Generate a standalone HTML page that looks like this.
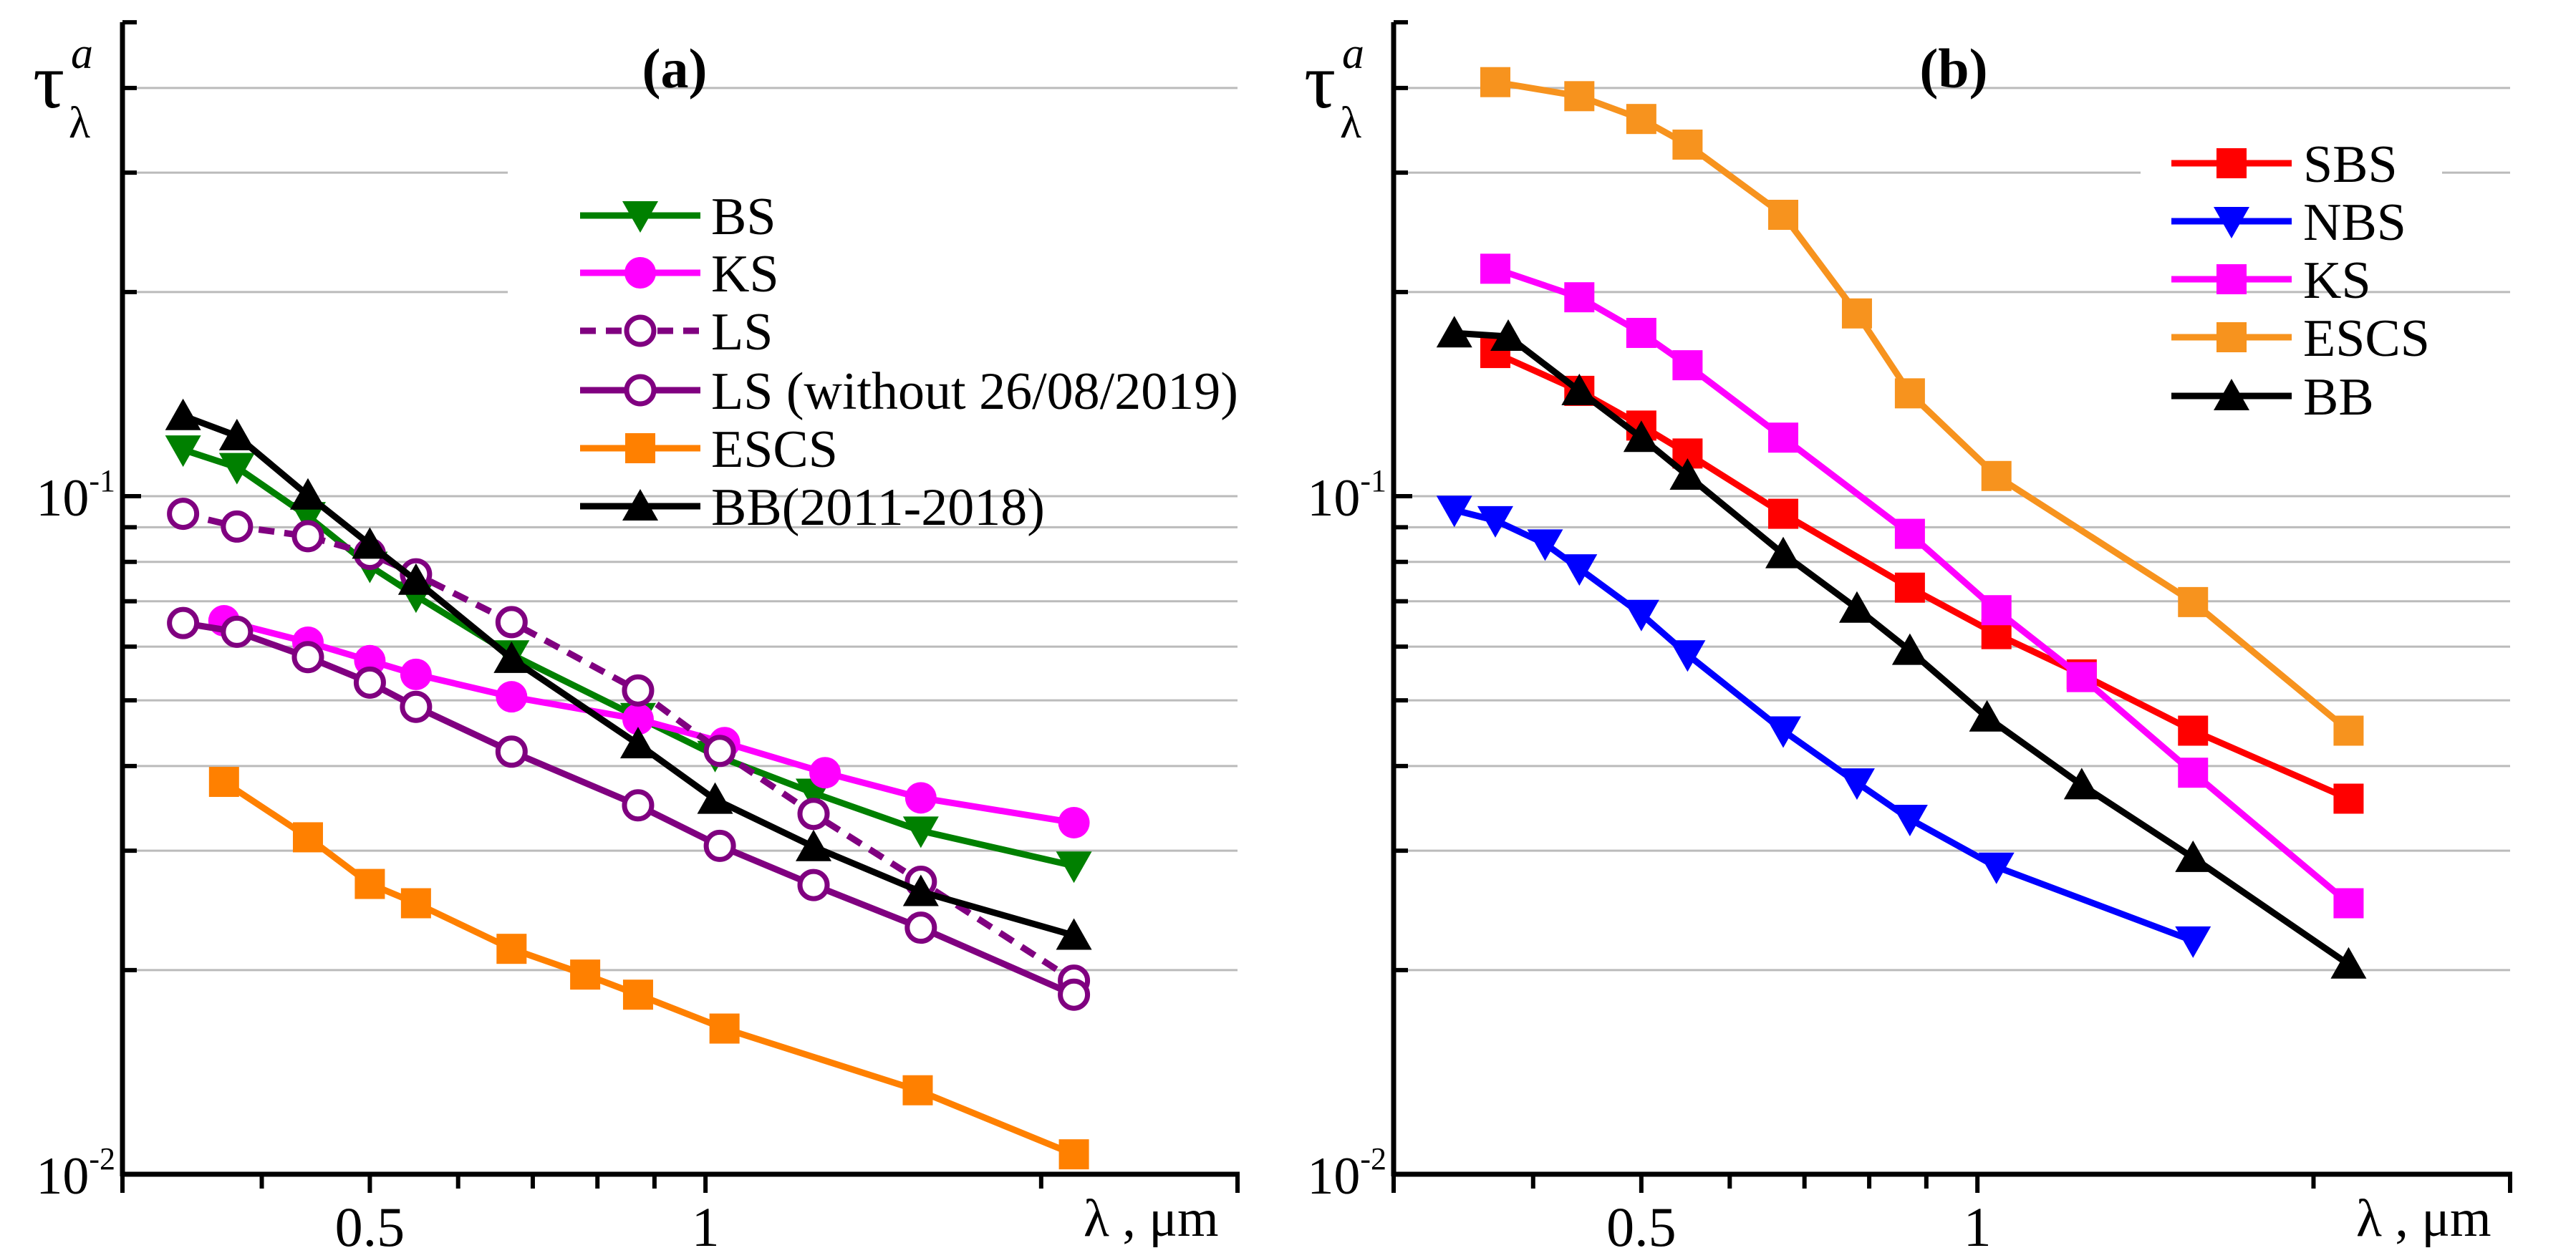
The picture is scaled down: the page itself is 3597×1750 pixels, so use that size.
<!DOCTYPE html>
<html><head><meta charset="utf-8"><style>
html,body{margin:0;padding:0;background:#fff;}
svg{display:block;}
svg text{font-family:"Liberation Serif","Times New Roman",Times,"DejaVu Serif",serif !important;}
</style></head><body>
<svg id="chart" width="3597" height="1750" viewBox="0 0 3597 1750" xmlns="http://www.w3.org/2000/svg"></svg>
<script>
// ---- data, panel a ----
const aBSx=[0.34,0.38,0.44,0.5,0.55,0.67,0.87,1.02,1.25,1.56,2.14];
const aBSy=[0.1171,0.1103,0.0934,0.0789,0.0713,0.0584,0.0472,0.0415,0.0365,0.0321,0.0285];
const aKSx=[0.37,0.44,0.5,0.55,0.67,0.87,1.04,1.28,1.56,2.14];
const aKSy=[0.0655,0.0609,0.0572,0.0546,0.0506,0.0469,0.0433,0.0391,0.0359,0.0330];
const aLSx=[0.34,0.38,0.44,0.5,0.55,0.67,0.87,1.03,1.25,1.56,2.14];
const aLSy=[0.0942,0.0902,0.0873,0.0822,0.0767,0.0652,0.0517,0.0421,0.0340,0.0270,0.0193];
const aLS2x=[0.34,0.38,0.44,0.5,0.55,0.67,0.87,1.03,1.25,1.56,2.14];
const aLS2y=[0.0650,0.0631,0.0579,0.0531,0.0489,0.0420,0.0350,0.0305,0.0267,0.0231,0.0184];
const aESx=[0.37,0.44,0.5,0.55,0.67,0.78,0.87,1.04,1.55,2.14];
const aESy=[0.0379,0.0314,0.0268,0.0251,0.0215,0.0197,0.0184,0.0164,0.0133,0.0107];
const aBBx=[0.34,0.38,0.44,0.5,0.55,0.67,0.87,1.02,1.25,1.56,2.14];
const aBBy=[0.1314,0.1227,0.1003,0.0849,0.0751,0.0576,0.0431,0.0357,0.0304,0.0261,0.0225];
// ---- data, panel b ----
const bSBSx=[0.37,0.44,0.5,0.55,0.67,0.87,1.04,1.24,1.56,2.15];
const bSBSy=[0.1626,0.1430,0.1271,0.1156,0.0942,0.0733,0.0626,0.0546,0.0451,0.0358];
const bNBSx=[0.34,0.37,0.41,0.44,0.5,0.55,0.67,0.78,0.87,1.04,1.56];
const bNBSy=[0.0954,0.0921,0.0851,0.0782,0.0670,0.0584,0.0451,0.0378,0.0334,0.0284,0.0221];
const bKSx=[0.37,0.44,0.5,0.55,0.67,0.87,1.04,1.24,1.56,2.15];
const bKSy=[0.2165,0.1965,0.1741,0.1560,0.1220,0.0880,0.0679,0.0541,0.0391,0.0251];
const bESx=[0.37,0.44,0.5,0.55,0.67,0.78,0.87,1.04,1.56,2.15];
const bESy=[0.408,0.389,0.360,0.330,0.260,0.186,0.1418,0.1071,0.0698,0.0451];
const bBBx=[0.34,0.38,0.44,0.5,0.55,0.67,0.78,0.87,1.02,1.24,1.56,2.15];
const bBBy=[0.174,0.172,0.143,0.122,0.1073,0.0822,0.0683,0.0592,0.0472,0.0375,0.0293,0.0204];
const xTicks=[0.3,0.4,0.5,0.6,0.7,0.8,0.9,1,2,3];
const xTickLabels=["0.5","1"];
const yGrid=[0.02,0.03,0.04,0.05,0.06,0.07,0.08,0.09,0.1,0.2,0.3,0.4];

const NS="http://www.w3.org/2000/svg";
const svg=document.getElementById('chart');
function mk(tag,attrs,parent,text){const e=document.createElementNS(NS,tag);for(const k in attrs)e.setAttribute(k,attrs[k]);if(tag==='text')e.style.fontFamily='"Liberation Serif","Times New Roman",serif';if(text!==undefined)e.textContent=text;(parent||svg).appendChild(e);return e;}

const Y0=1640, YD=947;
function ys(v){return Y0-(Math.log10(v)+2)*YD;}
function makeX(x0,x1){const l0=Math.log10(0.3),l1=Math.log10(3);return v=>x0+(Math.log10(v)-l0)/(l1-l0)*(x1-x0);}

function marker(g,type,x,y,color){
  let m;
  if(type==='sq') m=mk('rect',{x:x-21,y:y-21,width:42,height:42,fill:color},g);
  else if(type==='circ') m=mk('circle',{cx:x,cy:y,r:22,fill:color},g);
  else if(type==='ocirc') m=mk('circle',{cx:x,cy:y,r:19,fill:'#fff',stroke:color,'stroke-width':7},g);
  else if(type==='tdown') m=mk('polygon',{points:`${x-25},${y-20} ${x+25},${y-20} ${x},${y+24}`,fill:color},g);
  else m=mk('polygon',{points:`${x-25},${y+20} ${x+25},${y+20} ${x},${y-24}`,fill:color},g);
  
  
}

function panel(id,x0,x1,title,titleX,series,legend){
  const xs=makeX(x0,x1);
  const g=mk('g',{});
  const grid=mk('g',{},g);
  yGrid.forEach(v=>{const l=mk('line',{x1:x0,x2:x1,y1:ys(v),y2:ys(v),stroke:'#bbb','stroke-width':3},grid);
    });
  mk('rect',{x:legend.bx,y:legend.by,width:legend.bw,height:legend.bh,fill:'#fff',},g);
  series.forEach(s=>{
    const sg=mk('g',{},g);
    const pts=s.x.map((v,i)=>xs(v)+','+ys(s.y[i])).join(' ');
    const pl=mk('polyline',{points:pts,fill:'none',stroke:s.color,'stroke-width':9,'stroke-linejoin':'round'},sg);
    if(s.dash)pl.setAttribute('stroke-dasharray','22,14');
    
    s.x.forEach((v,i)=>marker(sg,s.m,xs(v),ys(s.y[i]),s.color));
  });
  const lg=mk('g',{},g);
  series.forEach((s,i)=>{
    const y=legend.ys[i];
    const eg=mk('g',{},lg);
    const l=mk('line',{x1:legend.lx1,x2:legend.lx2,y1:y,y2:y,stroke:s.color,'stroke-width':9},eg);
    if(s.dash)l.setAttribute('stroke-dasharray','22,14');
    marker(eg,s.m,(legend.lx1+legend.lx2)/2,y,s.color);
    mk('text',{x:legend.tx,y:y+26,'font-size':74,fill:'#000'},eg,s.name);
  });
  mk('line',{x1:x0,x2:x0,y1:31,y2:Y0+3,stroke:'#000','stroke-width':7,},g);
  mk('line',{x1:x0-3,x2:x1+3,y1:Y0,y2:Y0,stroke:'#000','stroke-width':7,},g);
  [0.02,0.03,0.04,0.05,0.06,0.07,0.08,0.09,0.1,0.2,0.3,0.4,0.5].forEach(v=>{
    const t=mk('line',{x1:x0,x2:x0+(v===0.1?26:20),y1:ys(v),y2:ys(v),stroke:'#000','stroke-width':6},g);
    });
  xTicks.forEach(v=>{
    const t=mk('line',{x1:xs(v),x2:xs(v),y1:Y0,y2:Y0+((v===0.5||v===1||v===3||v===0.3)?26:20),stroke:'#000','stroke-width':6},g);
    });
  xTickLabels.forEach(s=>{
    const t=mk('text',{x:xs(parseFloat(s)),y:1740,'font-size':78,'text-anchor':'middle'},g,s);
    });
  [[0.1,'-1'],[0.01,'-2']].forEach(([v,e])=>{
    const t=mk('text',{x:x0-10,y:ys(v)+27,'font-size':74,'text-anchor':'end',},g);
    mk('tspan',{},t,'10');mk('tspan',{'font-size':44,dy:-34},t,e);
  });
  mk('text',{x:x1-215,y:1726,'font-size':74,},g,'λ , μm');
  const yt=mk('g',{},g);
  mk('text',{x:x0-125,y:150,'font-size':110},yt,'τ');
  mk('text',{x:x0-72,y:95,'font-size':62,'font-style':'italic'},yt,'a');
  mk('text',{x:x0-75,y:192,'font-size':62},yt,'λ');
  mk('text',{x:titleX,y:122,'font-size':78,'font-weight':'bold','text-anchor':'middle',},g,title);
}

panel('a',171,1728,'(a)',942,[
  {name:'BS',x:aBSx,y:aBSy,color:'#008000',m:'tdown'},
  {name:'KS',x:aKSx,y:aKSy,color:'#ff00ff',m:'circ'},
  {name:'LS',x:aLSx,y:aLSy,color:'#800080',m:'ocirc',dash:true},
  {name:'LS (without 26/08/2019)',x:aLS2x,y:aLS2y,color:'#800080',m:'ocirc'},
  {name:'ESCS',x:aESx,y:aESy,color:'#ff8000',m:'sq'},
  {name:'BB(2011-2018)',x:aBBx,y:aBBy,color:'#000',m:'tup'}
],{bx:709,by:224,bw:1019,bh:206,ys:[301,381,462,545,626,707],lx1:810,lx2:978,tx:993});

panel('b',1946,3505,'(b)',2728,[
  {name:'SBS',x:bSBSx,y:bSBSy,color:'#ff0000',m:'sq'},
  {name:'NBS',x:bNBSx,y:bNBSy,color:'#0000ff',m:'tdown'},
  {name:'KS',x:bKSx,y:bKSy,color:'#ff00ff',m:'sq'},
  {name:'ESCS',x:bESx,y:bESy,color:'#f7931e',m:'sq'},
  {name:'BB',x:bBBx,y:bBBy,color:'#000',m:'tup'}
],{bx:2989,by:190,bw:421,bh:100,ys:[228,309,390,471,553],lx1:3032,lx2:3200,tx:3216});
</script>
</body></html>
